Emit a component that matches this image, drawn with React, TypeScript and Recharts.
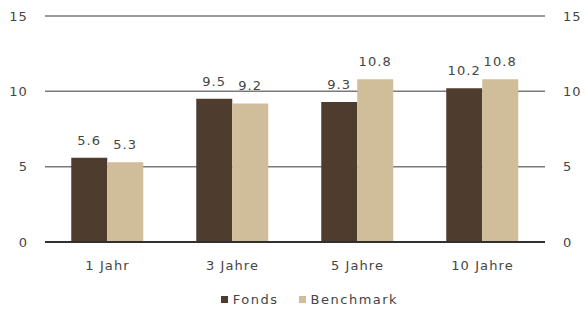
import React from 'react'
import { BarChart, Bar, XAxis, YAxis, CartesianGrid, Legend, LabelList } from 'recharts'

const periods = ['1 Jahr', '3 Jahre', '5 Jahre', '10 Jahre']
const fonds = [5.6, 9.5, 9.3, 10.2]
const benchmark = [5.3, 9.2, 10.8, 10.8]
const yTicks = [0, 5, 10, 15]
const series = [
  { key: 'Fonds', color: '#4e3c2f' },
  { key: 'Benchmark', color: '#d0bd99' },
]

const data = periods.map((p, i) => ({ period: p, Fonds: fonds[i], Benchmark: benchmark[i] }))

const font = '"DejaVu Sans", sans-serif'
const tickStyle = { fontSize: 13, fill: '#454545', fontFamily: font, letterSpacing: 1.1 }

function LegendBox() {
  return (
    <div style={{ display: 'flex', justifyContent: 'center', alignItems: 'center', height: 28, fontFamily: font, fontSize: 13, letterSpacing: 1.5, color: '#454545', paddingTop: 1, paddingLeft: 34 }}>
      {series.map((s) => (
        <span key={s.key} style={{ display: 'flex', alignItems: 'center', margin: '0 10px' }}>
          <span style={{ width: 7, height: 7, background: s.color, display: 'inline-block', marginRight: 5 }} />
          {s.key}
        </span>
      ))}
    </div>
  )
}

export default function App() {
  return (
    <div style={{ position: 'absolute', left: 0, top: 0, background: '#fff' }}>
      <BarChart
        width={585}
        height={312}
        data={data}
        margin={{ top: 16, right: 0, bottom: 0, left: 0 }}
        barCategoryGap="21%"
        barGap={0}
      >
        <CartesianGrid vertical={false} stroke="#7a7a7a" strokeWidth={1.5} yAxisId="left" />
        <XAxis
          dataKey="period"
          tick={tickStyle}
          tickLine={false}
          axisLine={{ stroke: '#303030', strokeWidth: 2 }}
          tickSize={0}
          tickMargin={19}
          height={42}
        />
        <YAxis
          yAxisId="left"
          domain={[0, 15]}
          ticks={yTicks}
          tick={tickStyle}
          tickLine={false}
          axisLine={false}
          tickSize={0}
          tickMargin={17}
          width={45}
        />
        <YAxis
          yAxisId="right"
          orientation="right"
          domain={[0, 15]}
          ticks={yTicks}
          tick={{ ...tickStyle, textAnchor: 'start' }}
          tickLine={false}
          axisLine={false}
          tickSize={0}
          tickMargin={18}
          width={40}
        />
        <Legend verticalAlign="bottom" height={28} content={() => <LegendBox />} />
        <Bar yAxisId="left" dataKey="Fonds" fill={series[0].color} isAnimationActive={false}>
          <LabelList dataKey="Fonds" position="top" style={tickStyle} offset={13} />
        </Bar>
        <Bar yAxisId="right" dataKey="Benchmark" fill={series[1].color} isAnimationActive={false}>
          <LabelList dataKey="Benchmark" position="top" style={tickStyle} offset={13} />
        </Bar>
      </BarChart>
    </div>
  )
}
